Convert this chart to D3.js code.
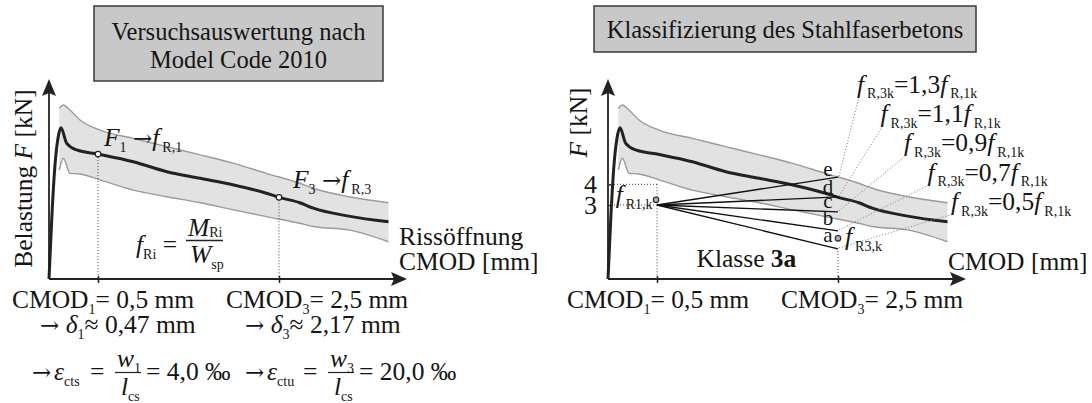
<!DOCTYPE html>
<html>
<head>
<meta charset="utf-8">
<script src="https://cdn.jsdelivr.net/npm/d3@7"></script>
<style>
  body { margin: 0; background: #fff; }
  text { font-family: "Liberation Serif", "Times New Roman", serif; fill: #151515; }
</style>
</head>
<body>
<svg width="1092" height="403"></svg>
<script>
// mean load-CMOD curve (CMOD in mm, F in kN)
const meanCmod = [0, 0.031, 0.061, 0.092, 0.122, 0.181, 0.283, 0.5, 0.89, 1.26, 1.63, 2.0, 2.36, 2.5, 2.73, 2.88, 3.27, 3.71];
const meanLoad = [0, 2.68, 4.93, 6.24, 6.73, 5.98, 5.66, 5.46, 5.09, 4.61, 4.29, 3.97, 3.57, 3.37, 3.11, 2.87, 2.55, 2.32];

// scatter band of the test results
const bandCmod  = [0.105, 0.146, 0.214, 0.316, 0.522, 0.89, 1.26, 1.63, 2.0, 2.36, 2.73, 2.88, 3.27, 3.71];
const bandUpper = [7.67, 7.83, 7.59, 7.11, 6.62, 6.22, 5.82, 5.42, 5.01, 4.53, 4.05, 3.81, 3.40, 3.11];
const bandLower = [4.69, 5.26, 4.53, 4.50, 4.21, 3.72, 3.40, 3.11, 2.80, 2.53, 2.26, 2.13, 1.99, 1.51];

// ticks
const cmodTicks = [0.5, 2.5];
const loadTicks = [3, 4];

// classification fan (a..e)
const fanLetters = ["a", "b", "c", "d", "e"];
const fanFactors = ["0,5", "0,7", "0,9", "1,1", "1,3"];
const fanEnds = [1.22, 1.95, 2.72, 3.39, 4.35];
const fR1k = 3.0;
const fR1kMark = [0.49, 3.25];
const fR3kMark = [2.5, 1.65];

const svg = d3.select("svg");
const axisY = 279;

// scales (offsets from each panel's origin), sketch is not to scale -> piecewise
let x = d3.scaleLinear().domain([0, 0.5, 2.5]).range([0, 49, 230]);
let y = d3.scaleLinear().domain([0, 3, 4]).range([0, -74, -94.7]);

// text with italic / subscript / arrow parts
function rich(parent, px, py, parts, size, anchor) {
  const t = parent.append("text").attr("x", px).attr("y", py)
    .style("font-size", size + "px")
    .attr("text-anchor", anchor || "start");
  let cur = 0;
  parts.forEach(p => {
    const s = p[0], st = p[1] || "", dx = p[2] || 0;
    const sub = st.includes("s");
    const off = sub ? (st.includes("r") ? size * 0.04 : size * 0.22) : 0;
    const ts = t.append("tspan").attr("dy", off - cur).text(s);
    cur = off;
    if (dx) ts.attr("dx", dx);
    if (sub) ts.style("font-size", Math.round(size * 0.54) + "px");
    if (st.includes("i")) ts.style("font-style", "italic");
    if (st.includes("b")) ts.style("font-weight", "bold");
    if (st.includes("a")) ts.style("font-family", "'DejaVu Serif', serif").style("font-size", Math.round(size * 0.9) + "px");
  });
  return t;
}

function titleBox(x0, y0, w, h, lines, baselines) {
  svg.append("rect").attr("x", x0).attr("y", y0).attr("width", w).attr("height", h)
    .attr("fill", "#c8c8c8").attr("stroke", "#3a3a3a").attr("stroke-width", 1.5);
  lines.forEach((l, i) => {
    svg.append("text").attr("x", x0 + w / 2).attr("y", baselines[i])
      .attr("text-anchor", "middle").style("font-size", "24.5px").text(l);
  });
}

function drawPanel(ox) {
  const g = svg.append("g").attr("transform", `translate(${ox},${axisY})`);

  // band
  const band = bandCmod.map((c, i) => ({c, u: bandUpper[i], l: bandLower[i]}));
  g.append("path").datum(band)
    .attr("fill", "#e2e2e2")
    .attr("d", d3.area().x(d => x(d.c)).y0(d => y(d.l)).y1(d => y(d.u)).curve(d3.curveMonotoneX));
  ["u", "l"].forEach(k => {
    g.append("path").datum(band).attr("fill", "none")
      .attr("stroke", "#9a9a9a").attr("stroke-width", 1.4)
      .attr("d", d3.line().x(d => x(d.c)).y(d => y(d[k])).curve(d3.curveMonotoneX));
  });

  // mean curve
  const mean = meanCmod.map((c, i) => [c, meanLoad[i]]);
  g.append("path").datum(mean).attr("fill", "none")
    .attr("stroke", "#222").attr("stroke-width", 3).attr("stroke-linejoin", "round")
    .attr("d", d3.line().x(d => x(d[0])).y(d => y(d[1])).curve(d3.curveMonotoneX));

  // x ticks
  const xa = g.append("g").call(d3.axisBottom(x).tickValues(cmodTicks).tickFormat("").tickSize(4));
  xa.select(".domain").remove();
  xa.selectAll(".tick line").attr("y1", -3).attr("stroke", "#222").attr("stroke-width", 1.5);

  // axes with arrows
  const xEnd = 358;
  g.append("line").attr("x1", 0).attr("x2", xEnd - 8).attr("y1", 0).attr("y2", 0)
    .attr("stroke", "#222").attr("stroke-width", 1.8);
  g.append("path").attr("d", `M${xEnd},0 L${xEnd - 16},-7 L${xEnd - 13},0 L${xEnd - 16},7 Z`).attr("fill", "#222");
  const yTop = 79 - axisY;
  g.append("line").attr("x1", 0).attr("x2", 0).attr("y1", 0).attr("y2", yTop + 8)
    .attr("stroke", "#222").attr("stroke-width", 1.8);
  g.append("path").attr("d", `M0,${yTop} L-7,${yTop + 17} L0,${yTop + 14} L7,${yTop + 17} Z`).attr("fill", "#222");
  return g;
}

function dotted(g, x1, y1, x2, y2, col) {
  g.append("line").attr("x1", x1).attr("y1", y1).attr("x2", x2).attr("y2", y2)
    .attr("stroke", col || "#444").attr("stroke-width", 1).attr("stroke-dasharray", "1,2");
}

// ---------------- left panel ----------------
titleBox(94, 6, 289, 75, ["Versuchsauswertung nach", "Model Code 2010"], [40, 68]);
const gl = drawPanel(49);

cmodTicks.forEach(c => {
  const F = meanLoad[meanCmod.indexOf(c)];
  dotted(gl, x(c), y(F) + 3, x(c), 0);
  gl.append("circle").attr("cx", x(c)).attr("cy", y(F)).attr("r", 2.8)
    .attr("fill", "#fff").attr("stroke", "#222").attr("stroke-width", 1.2);
});

rich(svg, 0, 0, [["Belastung "], ["F", "i"], [" [kN]"]], 25.5, "middle")
  .attr("transform", "translate(32,178.5) rotate(-90)");

rich(svg, 104, 146, [["F", "i"], ["1", "s"], [" "], ["→", "a"], ["f", "i"], ["R,1", "s", 3]], 25.5);
rich(svg, 293, 188, [["F", "i"], ["3", "s"], [" "], ["→", "a"], ["f", "i"], ["R,3", "s", 3]], 25.5);

rich(svg, 136, 253, [["f", "i"], ["Ri", "s"], [" ="]], 25.5);
rich(svg, 188, 236, [["M", "i"], ["Ri", "sr"]], 25.5);
svg.append("line").attr("x1", 186).attr("x2", 223).attr("y1", 240.5).attr("y2", 240.5).attr("stroke", "#222").attr("stroke-width", 1.3);
rich(svg, 190, 263, [["W", "i"], ["sp", "s"]], 25.5);

svg.append("text").attr("x", 399).attr("y", 245).style("font-size", "25.5px").text("Rissöffnung");
svg.append("text").attr("x", 399).attr("y", 270).style("font-size", "25.5px").text("CMOD [mm]");

rich(svg, 12, 308, [["CMOD"], ["1", "s"], ["= 0,5 mm"]], 25.5);
rich(svg, 226, 308, [["CMOD"], ["3", "s"], ["= 2,5 mm"]], 25.5);
rich(svg, 40, 333, [["→", "a"], [" "], ["δ", "i"], ["1", "s"], ["≈ 0,47 mm"]], 25.5);
rich(svg, 245, 333, [["→", "a"], [" "], ["δ", "i"], ["3", "s"], ["≈ 2,17 mm"]], 25.5);

function strainTerm(x0, sub, num, val) {
  rich(svg, x0, 380, [["→", "a"]], 25.5);
  rich(svg, x0 + 22, 380, [["ε", "i"], [sub, "s"]], 25.5);
  rich(svg, x0 + 58, 380, [["="]], 25.5);
  svg.append("line").attr("x1", x0 + 83).attr("x2", x0 + 109).attr("y1", 372.5).attr("y2", 372.5)
    .attr("stroke", "#222").attr("stroke-width", 1.2);
  rich(svg, x0 + 85, 367, [["w", "i"], [num, "s"]], 25.5);
  rich(svg, x0 + 89, 395, [["l", "i"], ["cs", "s"]], 25.5);
  rich(svg, x0 + 114, 380, [[val]], 25.5);
}
strainTerm(32, "cts", "1", "= 4,0 ‰");
strainTerm(245, "ctu", "3", "= 20,0 ‰");

// ---------------- right panel ----------------
titleBox(594, 6, 382, 46, ["Klassifizierung des Stahlfaserbetons"], [38]);
const gr = drawPanel(608);

const ya = gr.append("g").call(d3.axisLeft(y).tickValues(loadTicks).tickFormat(d3.format("d")).tickSize(6).tickPadding(5));
ya.select(".domain").remove();
ya.selectAll(".tick line").attr("x2", 4).attr("stroke", "#222").attr("stroke-width", 1.5);
ya.selectAll(".tick text").style("font-size", "26px").attr("fill", "#151515")
  .style("font-family", "'Liberation Serif', serif");

// dotted guides
dotted(gr, 0, y(4), x(0.5), y(4));
dotted(gr, 0, y(3), x(0.5), y(3));
dotted(gr, x(0.5), y(4), x(0.5), 0);
dotted(gr, x(2.5), y(fanEnds[0]) + 2, x(2.5), 0);

// fan lines
fanEnds.forEach(v => {
  gr.append("line").attr("x1", x(0.5)).attr("y1", y(fR1k)).attr("x2", x(2.5)).attr("y2", y(v))
    .attr("stroke", "#111").attr("stroke-width", 1.3);
});

// markers
[fR1kMark, fR3kMark].forEach(m => {
  gr.append("circle").attr("cx", x(m[0])).attr("cy", y(m[1])).attr("r", 2.8)
    .attr("fill", "#aaa").attr("stroke", "#222").attr("stroke-width", 1.1);
});

// letters and leader labels
fanLetters.forEach((L, i) => {
  gr.append("text").attr("x", x(2.5) - 10).attr("y", y(fanEnds[i]) - 7 + i * 1.5)
    .attr("text-anchor", "middle").style("font-size", "21px").text(L);
  const lx = 951 - i * 23.5, ly = 210 - i * 29.3;
  dotted(svg, 608 + x(2.5) + 1, axisY + y(fanEnds[i]) - 1, lx + 2, ly + 4, "#777");
  rich(svg, lx, ly, [["f", "i"], ["R,3k", "s", 3], ["=" + fanFactors[i]], ["f", "i"], ["R,1k", "s", 3]], 25.5);
});

rich(svg, 615.7, 203, [["f", "i"], ["R1,k", "s", 3]], 25.5);
rich(svg, 845, 245, [["f", "i"], ["R3,k", "s", 3]], 25.5);

rich(svg, 696.5, 267, [["Klasse "], ["3a", "b"]], 25.5);
svg.append("text").attr("x", 948).attr("y", 270).style("font-size", "25.5px").text("CMOD [mm]");

rich(svg, 0, 0, [["F", "i"], [" [kN]"]], 25.5, "middle")
  .attr("transform", "translate(587,122.5) rotate(-90)");

rich(svg, 567, 308, [["CMOD"], ["1", "s"], ["= 0,5 mm"]], 25.5);
rich(svg, 781, 308, [["CMOD"], ["3", "s"], ["= 2,5 mm"]], 25.5);
</script>
</body>
</html>
